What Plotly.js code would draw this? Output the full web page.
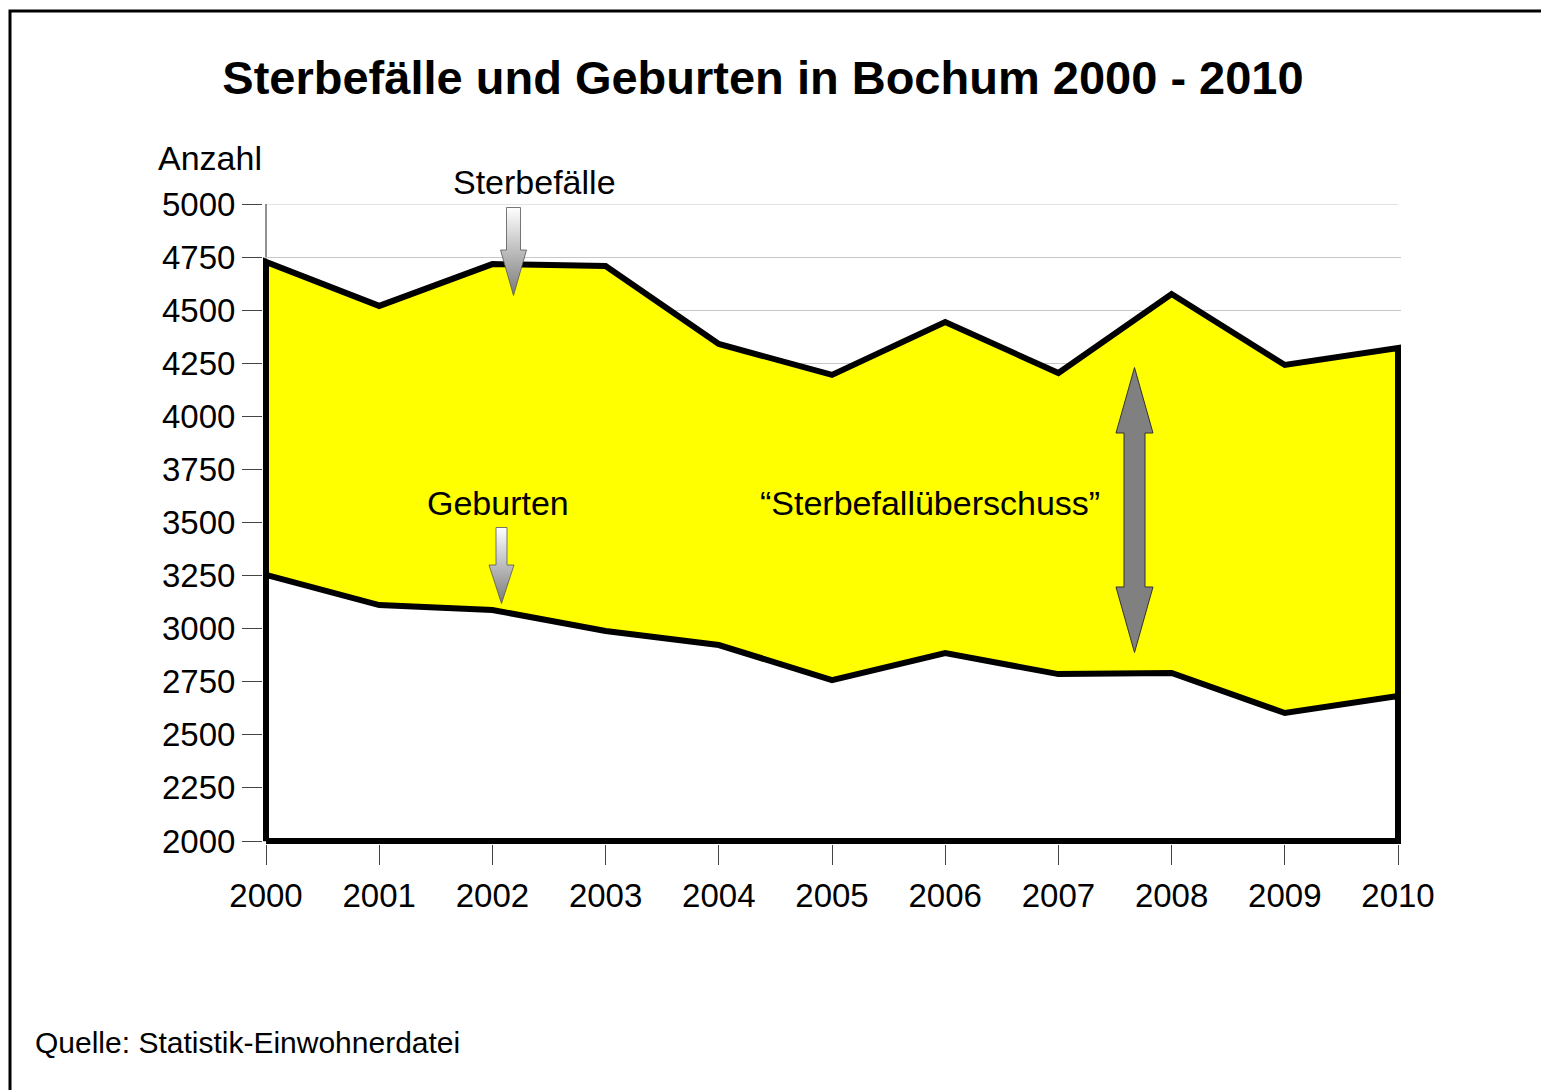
<!DOCTYPE html>
<html>
<head>
<meta charset="utf-8">
<script src="https://cdn.plot.ly/plotly-3.0.1.min.js"></script>
<style>html,body{margin:0;padding:0;background:#fff;}#chart{width:1541px;height:1090px;}</style>
</head>
<body>
<div id="chart"></div>
<script>
// Data
const years = [2000, 2001, 2002, 2003, 2004, 2005, 2006, 2007, 2008, 2009, 2010];
const sterbefaelle = [4727, 4520, 4717, 4708, 4341, 4195, 4444, 4204, 4576, 4242, 4322];
const geburten = [3253, 3111, 3088, 2989, 2923, 2758, 2885, 2786, 2791, 2603, 2683];
const yTicks = [2000, 2250, 2500, 2750, 3000, 3250, 3500, 3750, 4000, 4250, 4500, 4750, 5000];
const baseValue = 2000;
const topValue = 5000;

const FONT = 'Liberation Sans, Arial, sans-serif';
const W = 1541, H = 1090;
const M = {l: 263, r: 140, t: 204, b: 246};
const PW = W - M.l - M.r, PH = H - M.t - M.b;
const px = x => (x - M.l) / PW;
const py = y => (H - M.b - y) / PH;

// closed polygons built from the data arrays
const first = years[0], last = years[years.length - 1];
const sterbePolyX = [first].concat(years, [last, first]);
const sterbePolyY = [baseValue].concat(sterbefaelle, [baseValue, baseValue]);
const gebPolyX = [first].concat(years, [last, first]);
const gebPolyY = [baseValue].concat(geburten, [baseValue, baseValue]);

const traces = [
  {x: sterbePolyX, y: sterbePolyY, type: 'scatter', mode: 'lines', fill: 'toself',
   fillcolor: '#FFFF00', line: {color: '#000', width: 6}, hoverinfo: 'skip', showlegend: false},
  {x: gebPolyX, y: gebPolyY, type: 'scatter', mode: 'lines', fill: 'toself',
   fillcolor: '#FFFFFF', line: {color: '#000', width: 6}, hoverinfo: 'skip', showlegend: false}
];

function svgUri(s){ return 'data:image/svg+xml;charset=utf-8,' + encodeURIComponent(s); }
const arrow1 = '<svg xmlns="http://www.w3.org/2000/svg" width="27" height="89" viewBox="0 0 27 89"><defs><linearGradient id="g" x1="0" y1="0" x2="0" y2="1"><stop offset="0" stop-color="#ffffff"/><stop offset="1" stop-color="#7a7a7a"/></linearGradient></defs><path d="M6.5,0.5 H20.5 V43 H26.5 L13.5,88.5 L0.5,43 H6.5 Z" fill="url(#g)" stroke="#555" stroke-width="0.8"/></svg>';
const arrow2 = '<svg xmlns="http://www.w3.org/2000/svg" width="27" height="77" viewBox="0 0 27 77"><defs><linearGradient id="g" x1="0" y1="0" x2="0" y2="1"><stop offset="0" stop-color="#ffffff"/><stop offset="1" stop-color="#7a7a7a"/></linearGradient></defs><path d="M8,0.5 H19 V38 H26 L13.5,76.5 L1,38 H8 Z" fill="url(#g)" stroke="#555" stroke-width="0.8"/></svg>';
const arrow3 = '<svg xmlns="http://www.w3.org/2000/svg" width="39" height="286" viewBox="0 0 39 286"><path d="M19.5,0.5 L38,66 H30 V220 H38 L19.5,285.5 L1,220 H9 V66 H1 Z" fill="#808080" stroke="#333" stroke-width="1"/></svg>';

function img(src, x, y, w, h){
  return {source: svgUri(src), xref: 'paper', yref: 'paper', x: px(x), y: py(y),
    sizex: w / PW, sizey: h / PH, xanchor: 'left', yanchor: 'top', sizing: 'stretch', layer: 'above'};
}

function ann(text, x, y, size, xanchor){
  return {text: text, xref: 'paper', yref: 'paper', x: px(x), y: py(y), xanchor: xanchor || 'center',
    yanchor: 'middle', showarrow: false, font: {family: FONT, size: size, color: '#000'}};
}

const layout = {
  width: W, height: H,
  margin: M,
  paper_bgcolor: '#fff', plot_bgcolor: '#fff',
  showlegend: false,
  title: {text: 'Sterbefälle und Geburten in Bochum 2000 - 2010', x: 763 / W, xanchor: 'center',
    y: 1 - 78 / H, yanchor: 'middle', font: {family: FONT, size: 47, color: '#000', weight: 'bold'}},
  xaxis: {range: [2000 - 3 / 113.2, 2010 + 3 / 113.2], tickvals: years, ticktext: years.map(String),
    showgrid: false, zeroline: false, showline: false, ticks: 'outside', ticklen: 20, tickwidth: 1,
    tickcolor: '#444', ticklabelstandoff: 2, tickfont: {family: FONT, size: 33, color: '#000'}, fixedrange: true},
  yaxis: {range: [2000 - 3 / (637 / 3000), 5000], tickvals: yTicks, ticktext: yTicks.map(String),
    showgrid: true, gridcolor: '#c8c8c8', gridwidth: 1, zeroline: false, showline: false,
    ticks: 'outside', ticklen: 20, tickwidth: 1, tickcolor: '#444', ticklabelstandoff: 0,
    tickfont: {family: FONT, size: 33, color: '#000'}, fixedrange: true},
  shapes: [
    {type: 'line', xref: 'x', yref: 'y', x0: first, x1: last, y0: topValue, y1: topValue, line: {color: '#c8c8c8', width: 1}, layer: 'below'},
    {type: 'line', xref: 'x', yref: 'y', x0: first, x1: first, y0: baseValue, y1: topValue, line: {color: '#222', width: 1}, layer: 'below'},
    {type: 'rect', xref: 'paper', yref: 'paper', x0: px(10), x1: px(1600), y0: py(11), y1: py(1120), line: {color: '#000', width: 3}, fillcolor: 'rgba(0,0,0,0)'}
  ],
  images: [
    img(arrow1, 500, 207, 27, 89),
    img(arrow2, 488, 527, 27, 77),
    img(arrow3, 1115, 367, 39, 286)
  ],
  annotations: [
    ann('Anzahl', 210, 158, 34),
    ann('Sterbefälle', 534, 182, 34),
    ann('Geburten', 498, 503, 34),
    ann('\u201cSterbefallüberschuss\u201d', 930, 503, 34),
    ann('Quelle: Statistik-Einwohnerdatei', 33, 1042, 30, 'left')
  ]
};

Plotly.newPlot('chart', traces, layout, {displayModeBar: false, staticPlot: true});
</script>
</body>
</html>
